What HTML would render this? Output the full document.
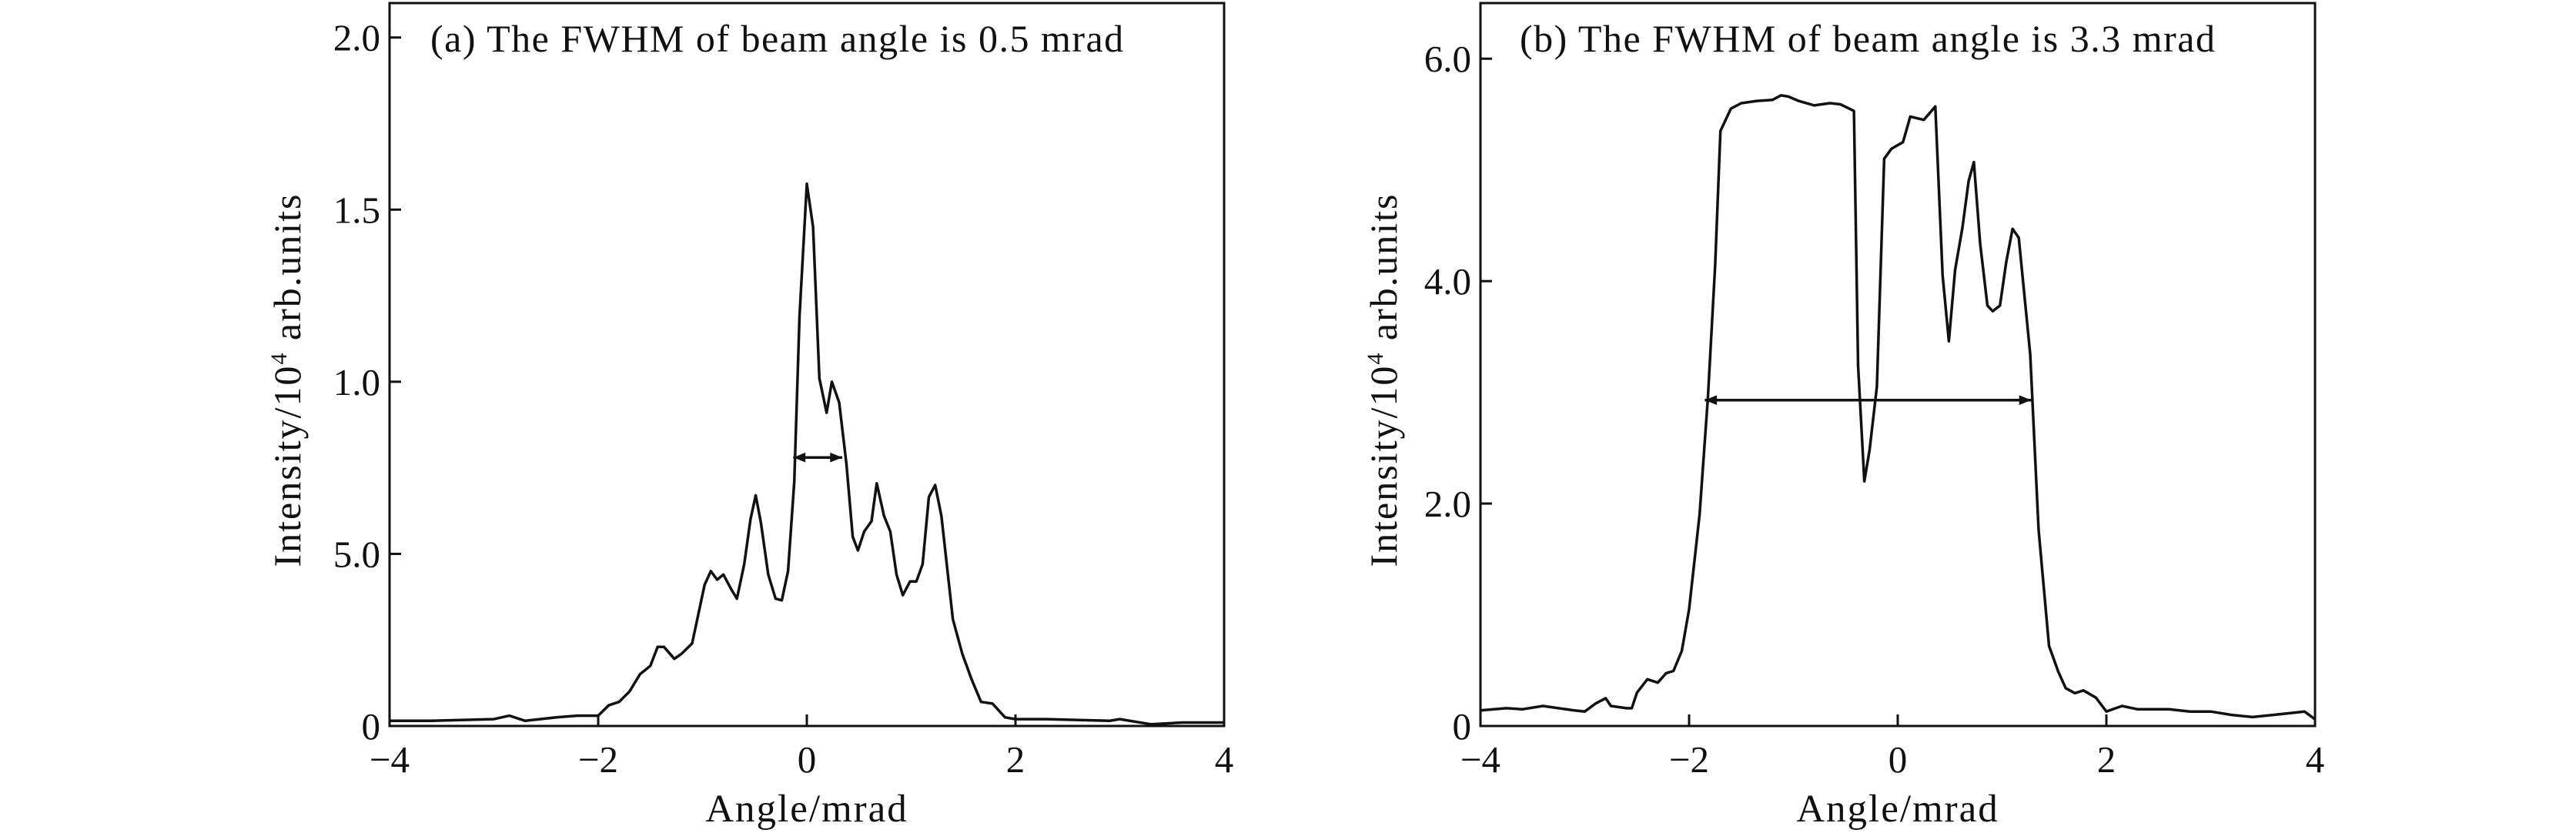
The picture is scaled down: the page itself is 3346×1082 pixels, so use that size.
<!DOCTYPE html>
<html><head><meta charset="utf-8"><style>
body{margin:0;background:#fff}
svg{display:block}
text{font-family:"Liberation Serif",serif;fill:#111}
</style></head><body>
<svg id="chart" width="3346" height="1082" viewBox="0 0 3346 1082">
<defs>
<marker id="ah" viewBox="0 0 10 10" refX="10" refY="5" markerWidth="7" markerHeight="4.5" orient="auto-start-reverse" markerUnits="strokeWidth">
<path d="M0,1 L10,5 L0,9 z" fill="#111"/></marker>
</defs>
</svg>
<script>
const anglesA=[-4,-3.6,-3,-2.85,-2.7,-2.4,-2.2,-2.0,-1.9,-1.8,-1.7,-1.6,-1.5,-1.43,-1.37,-1.27,-1.2,-1.1,-1.05,-0.98,-0.92,-0.86,-0.8,-0.72,-0.67,-0.6,-0.54,-0.49,-0.44,-0.37,-0.3,-0.24,-0.18,-0.12,-0.07,0,0.06,0.12,0.19,0.24,0.31,0.38,0.44,0.49,0.55,0.62,0.67,0.74,0.8,0.86,0.92,0.99,1.05,1.11,1.17,1.23,1.29,1.4,1.49,1.58,1.67,1.78,1.9,2.0,2.3,2.9,3.0,3.3,3.6,4.0];
const valuesA=[0.015,0.015,0.02,0.03,0.015,0.025,0.03,0.03,0.06,0.07,0.1,0.15,0.175,0.23,0.23,0.195,0.21,0.24,0.31,0.41,0.45,0.425,0.44,0.395,0.37,0.47,0.6,0.67,0.59,0.44,0.37,0.365,0.45,0.71,1.19,1.575,1.45,1.01,0.91,1.0,0.94,0.76,0.55,0.51,0.565,0.595,0.705,0.61,0.565,0.44,0.38,0.42,0.42,0.47,0.665,0.70,0.61,0.31,0.21,0.135,0.07,0.065,0.025,0.02,0.02,0.015,0.02,0.005,0.01,0.01];
const anglesB=[-4,-3.75,-3.6,-3.4,-3.1,-3.0,-2.9,-2.8,-2.75,-2.6,-2.55,-2.5,-2.4,-2.3,-2.22,-2.15,-2.07,-2.0,-1.9,-1.82,-1.75,-1.7,-1.6,-1.5,-1.35,-1.2,-1.12,-1.05,-0.95,-0.8,-0.65,-0.55,-0.42,-0.38,-0.32,-0.27,-0.2,-0.13,-0.06,0.05,0.12,0.25,0.36,0.43,0.49,0.55,0.62,0.68,0.73,0.79,0.86,0.91,0.98,1.04,1.1,1.16,1.27,1.35,1.45,1.54,1.61,1.7,1.78,1.9,2.0,2.15,2.3,2.6,2.8,3.0,3.2,3.4,3.6,3.9,4.0];
const valuesB=[0.14,0.16,0.15,0.18,0.14,0.13,0.2,0.25,0.18,0.16,0.16,0.3,0.42,0.39,0.475,0.495,0.675,1.05,1.9,2.95,4.15,5.35,5.55,5.6,5.62,5.63,5.67,5.66,5.62,5.58,5.6,5.59,5.53,3.24,2.2,2.48,3.05,5.1,5.19,5.25,5.48,5.45,5.57,4.05,3.46,4.1,4.48,4.9,5.07,4.34,3.78,3.73,3.78,4.17,4.47,4.39,3.34,1.77,0.72,0.485,0.34,0.295,0.32,0.255,0.13,0.18,0.15,0.15,0.13,0.13,0.1,0.08,0.1,0.13,0.06];
const xTicks=[-4,-2,0,2,4];
const xTickLabels=["\u22124","\u22122","0","2","4"];
const yTicksA=[0,0.5,1.0,1.5,2.0];
const yTickLabelsA=["0","5.0","1.0","1.5","2.0"];
const yTicksB=[0,2,4,6];
const yTickLabelsB=["0","2.0","4.0","6.0"];
const fwhmA=[-0.13,0.34,0.78];
const fwhmB=[-1.85,1.28,2.93];

const NS="http://www.w3.org/2000/svg";
const svg=document.getElementById('chart');
function mk(tag,attrs,parent){const e=document.createElementNS(NS,tag);for(const k in attrs)e.setAttribute(k,attrs[k]);(parent||svg).appendChild(e);return e;}

function panel(id,L,R,T,B,ymax,xs,ys,yt,ytl,fw,title,titleX,ylabX){
  const g=mk('g',{});
  
  
  const sx=v=>L+(v+4)/8*(R-L);
  const sy=v=>B-v/ymax*(B-T);
  const fr=mk('rect',{x:L,y:T,width:R-L,height:B-T,fill:'none',stroke:'#111','stroke-width':3},g);
  
  
  xTicks.forEach((t,i)=>{
    const x=sx(t);
    const tk=mk('line',{x1:x,x2:x,y1:B,y2:B-15,stroke:'#111','stroke-width':3},g);
    
    
    const tl=mk('text',{x:x,y:B+60,'font-size':49,'text-anchor':'middle'},g);
    tl.textContent=xTickLabels[i];
    
    
  });
  yt.forEach((t,i)=>{
    const y=sy(t);
    const tk=mk('line',{x1:L,x2:L+15,y1:y,y2:y,stroke:'#111','stroke-width':3},g);
    
    
    const tl=mk('text',{x:L-12,y:y+17,'font-size':49,'text-anchor':'end'},g);
    tl.textContent=ytl[i];
    
    
  });
  const d=xs.map((x,i)=>(i?'L':'M')+sx(x).toFixed(1)+','+sy(ys[i]).toFixed(1)).join(' ');
  const p=mk('path',{d:d,fill:'none',stroke:'#111','stroke-width':3.5,'stroke-linejoin':'round'},g);
  
  
  const a=mk('line',{x1:sx(fw[0]),x2:sx(fw[1]),y1:sy(fw[2]),y2:sy(fw[2]),stroke:'#111','stroke-width':3.5,'marker-start':'url(#ah)','marker-end':'url(#ah)'},g);
  
  
  const ti=mk('text',{x:titleX,y:67,'font-size':50,'letter-spacing':1.5},g);
  ti.textContent=title;
  
  
  const xl=mk('text',{x:(L+R)/2,y:1067,'font-size':51,'text-anchor':'middle','letter-spacing':2},g);
  xl.textContent='Angle/mrad';
  
  
  const yl=mk('text',{x:0,y:0,'font-size':50,'text-anchor':'middle','letter-spacing':2,transform:`translate(${ylabX},${(T+B)/2+20}) rotate(-90)`},g);
  yl.innerHTML='Intensity/10<tspan dy="-18" font-size="30">4</tspan><tspan dy="18"> arb.units</tspan>';
  
  
}
panel('panel-a',506,1590,4,943,2.1,anglesA,valuesA,yTicksA,yTickLabelsA,fwhmA,'(a) The FWHM of beam angle is 0.5 mrad',559,390);
panel('panel-b',1923,3007,4,943,6.5,anglesB,valuesB,yTicksB,yTickLabelsB,fwhmB,'(b) The FWHM of beam angle is 3.3 mrad',1974,1814);
</script>
</body></html>
